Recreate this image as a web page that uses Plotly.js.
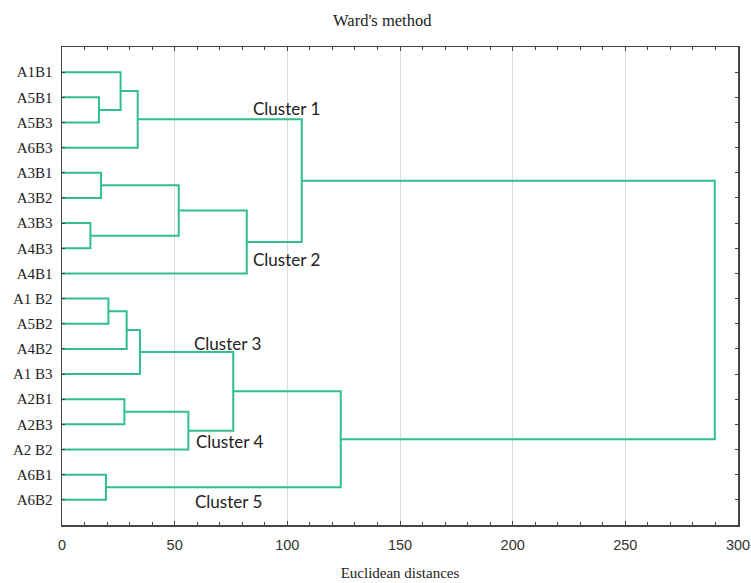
<!DOCTYPE html>
<html>
<head>
<meta charset="utf-8">
<script src="https://cdn.plot.ly/plotly-3.0.1.min.js"></script>
<style>html,body{margin:0;padding:0;background:#fff;}#chart{width:751px;height:583px;}</style>
</head>
<body>
<div id="chart"></div>
<script>
// Leaf labels, top to bottom
const leaves = ['A1B1','A5B1','A5B3','A6B3','A3B1','A3B2','A3B3','A4B3','A4B1',
                'A1 B2','A5B2','A4B2','A1 B3','A2B1','A2B3','A2 B2','A6B1','A6B2'];
// Linkage (scipy-style): indices < 18 are leaves, >= 18 are earlier merges
const mergeLeft   = [1, 0, 19, 4, 6, 21, 23, 20, 9, 26, 27, 13, 29, 28, 16, 31, 25];
const mergeRight  = [2, 18, 3, 5, 7, 22, 8, 24, 10, 11, 12, 14, 15, 30, 17, 32, 33];
const mergeHeight = [16.4, 26.0, 33.6, 17.3, 12.6, 51.8, 82.0, 106.4, 20.6, 28.7, 34.6, 27.7, 56.1, 76.0, 19.5, 123.7, 289.7];
const clusterNames = ['Cluster 1','Cluster 2','Cluster 3','Cluster 4','Cluster 5'];
const xTicks = [0, 50, 100, 150, 200, 250, 300];

// node positions
const nodeX = leaves.map(() => 0);
const nodeY = leaves.map((_, i) => i);
const xs = [], ys = [];
for (let k = 0; k < mergeHeight.length; k++) {
  const a = mergeLeft[k], b = mergeRight[k], h = mergeHeight[k];
  xs.push(nodeX[a], h, h, nodeX[b], null);
  ys.push(nodeY[a], nodeY[a], nodeY[b], nodeY[b], null);
  nodeX.push(h);
  nodeY.push((nodeY[a] + nodeY[b]) / 2);
}

const trace = {
  x: xs, y: ys, type: 'scatter', mode: 'lines',
  line: {color: '#2fbf8c', width: 2},
  hoverinfo: 'skip', showlegend: false
};

const clusterPos = [[84, 1.43], [84, 7.43], [57.6, 10.8], [58.5, 14.7], [58.3, 17.05]];
const annotations = clusterNames.map((t, i) => ({
  text: t, x: clusterPos[i][0], y: clusterPos[i][1], xref: 'x', yref: 'y',
  xanchor: 'left', yanchor: 'middle', showarrow: false,
  font: {family: 'Lato, "Liberation Sans", sans-serif', size: 17, color: '#222'}
}));

const layout = {
  width: 751, height: 583,
  margin: {l: 62, r: 13, t: 47, b: 58},
  paper_bgcolor: '#fff', plot_bgcolor: '#fff',
  title: {text: "Ward's method", x: 0.509, xref: 'container', xanchor: 'center',
          y: 1 - 20.7/583, yref: 'container', yanchor: 'middle',
          font: {family: '"Liberation Serif", serif', size: 16.5, color: '#222'}},
  xaxis: {
    range: [0, 300], tickvals: xTicks, ticktext: xTicks.map(String),
    showgrid: true, gridcolor: '#dcdcdc', gridwidth: 1, zeroline: false,
    showline: true, linecolor: '#444', linewidth: 1.5, mirror: 'ticks',
    ticks: 'inside', ticklen: 4, tickcolor: '#444', tickwidth: 1,
    minor: {dtick: 10, tick0: 0, ticks: 'inside', ticklen: 3, tickcolor: '#444', showgrid: false},
    ticklabelstandoff: 6,
    tickfont: {family: '"Liberation Sans", Arial, sans-serif', size: 14.5, color: '#333'},
    title: {text: 'Euclidean distances', standoff: 15,
            font: {family: '"Liberation Serif", serif', size: 15, color: '#222'}}
  },
  yaxis: {
    range: [18, -1], tickvals: leaves.map((_, i) => i), ticktext: leaves,
    showgrid: false, zeroline: false,
    showline: true, linecolor: '#444', linewidth: 1.5, mirror: 'ticks',
    ticks: 'inside', ticklen: 3, tickcolor: '#444', tickwidth: 1,
    ticklabelstandoff: 5,
    tickfont: {family: '"Liberation Serif", serif', size: 15, color: '#222'}
  },
  annotations: annotations
};

Plotly.newPlot('chart', [trace], layout, {displayModeBar: false, staticPlot: true});
</script>
</body>
</html>
